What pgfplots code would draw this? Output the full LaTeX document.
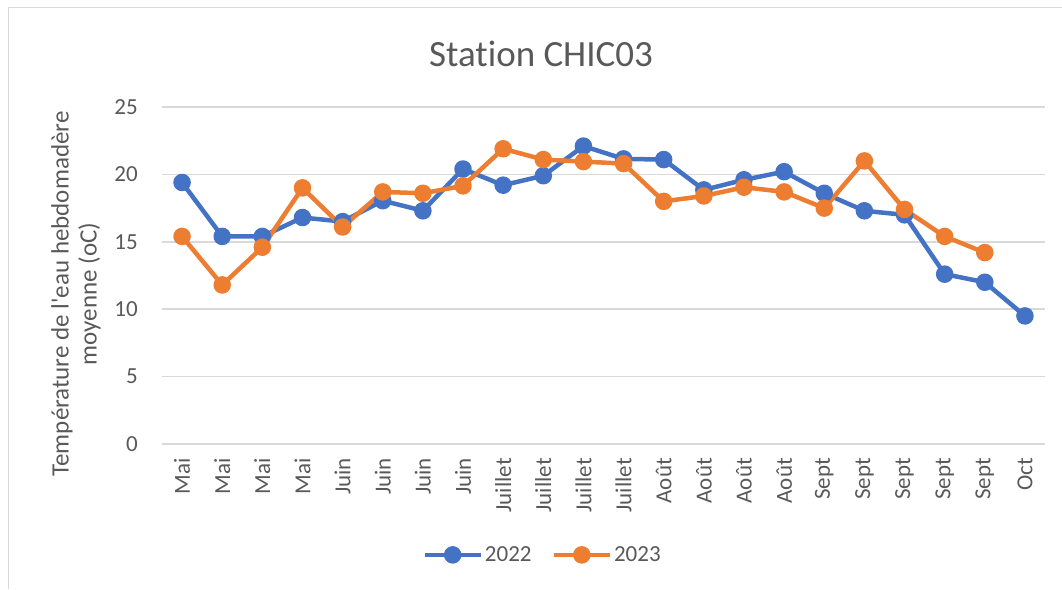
\documentclass[border=0pt]{standalone}
\usepackage{fontspec}
\setmainfont{Carlito}[Ligatures=NoCommon]
\usepackage{pgfplots}
\pgfplotsset{compat=1.18}
\definecolor{txt}{HTML}{595959}
\definecolor{gridc}{HTML}{D9D9D9}
\definecolor{bl}{HTML}{4472C4}
\definecolor{or}{HTML}{ED7D31}
\begin{document}
\begin{tikzpicture}[x=1pt,y=1pt]
\useasboundingbox (0,0) rectangle (1062,589);
\draw[gridc, line width=1pt] (8,0) -- (8,581) -- (1062,581);
\node[text=txt, font=\fontsize{37}{44}\selectfont] at (541,535) {Station CHIC03};
\node[text=txt, rotate=90, align=center, font=\fontsize{25}{28}\selectfont] at (76,295) {Température de l\textquotesingle eau hebdomadère\\moyenne (oC)};
\begin{axis}[at={(162pt,145pt)}, anchor=south west, width=883pt, height=337pt, scale only axis,
  xmin=-0.5, xmax=21.5, ymin=0, ymax=25, ytick={0,5,...,25}, xtick={0,...,21},
  xticklabels={Mai,Mai,Mai,Mai,Juin,Juin,Juin,Juin,Juillet,Juillet,Juillet,Juillet,Août,Août,Août,Août,Sept,Sept,Sept,Sept,Sept,Oct},
  xticklabel style={rotate=90, anchor=east, inner sep=0pt},
  yticklabel style={inner sep=0pt},
  xticklabel shift=14pt, yticklabel shift=24pt,
  ymajorgrids, grid style={gridc, line width=1.5pt},
  axis line style={draw=none}, major tick length=0pt,
  tick label style={font=\fontsize{23}{27}\selectfont, text=txt},
  /pgf/number format/assume math mode=true,
  legend style={draw=none, at={(0.431,-0.329)}, anchor=center, legend columns=2, font=\fontsize{23}{27}\selectfont, text=txt, /tikz/every even column/.append style={column sep=18pt}},
  legend image code/.code={\draw[mark repeat=2, mark phase=2] plot coordinates {(0pt,0pt)(28pt,0pt)(56pt,0pt)};},
  every axis plot/.append style={line width=4.5pt, line join=round, mark=*, mark size=6.5pt, mark options={solid}},
]
\addplot[bl, mark options={fill=bl, draw=bl}] coordinates {
(0,19.4)(1,15.4)(2,15.4)(3,16.8)(4,16.5)(5,18.05)(6,17.3)(7,20.4)(8,19.2)(9,19.9)(10,22.1)
(11,21.15)(12,21.1)(13,18.85)(14,19.6)(15,20.2)(16,18.6)(17,17.3)(18,17.0)(19,12.6)(20,12.0)(21,9.5)};
\addlegendentry{2022}
\addplot[or, mark options={fill=or, draw=or}] coordinates {
(0,15.4)(1,11.8)(2,14.6)(3,19.0)(4,16.1)(5,18.7)(6,18.6)(7,19.15)(8,21.9)(9,21.1)(10,20.95)
(11,20.8)(12,18.0)(13,18.4)(14,19.05)(15,18.7)(16,17.5)(17,21.0)(18,17.4)(19,15.4)(20,14.2)};
\addlegendentry{2023}
\end{axis}
\end{tikzpicture}
\end{document}
